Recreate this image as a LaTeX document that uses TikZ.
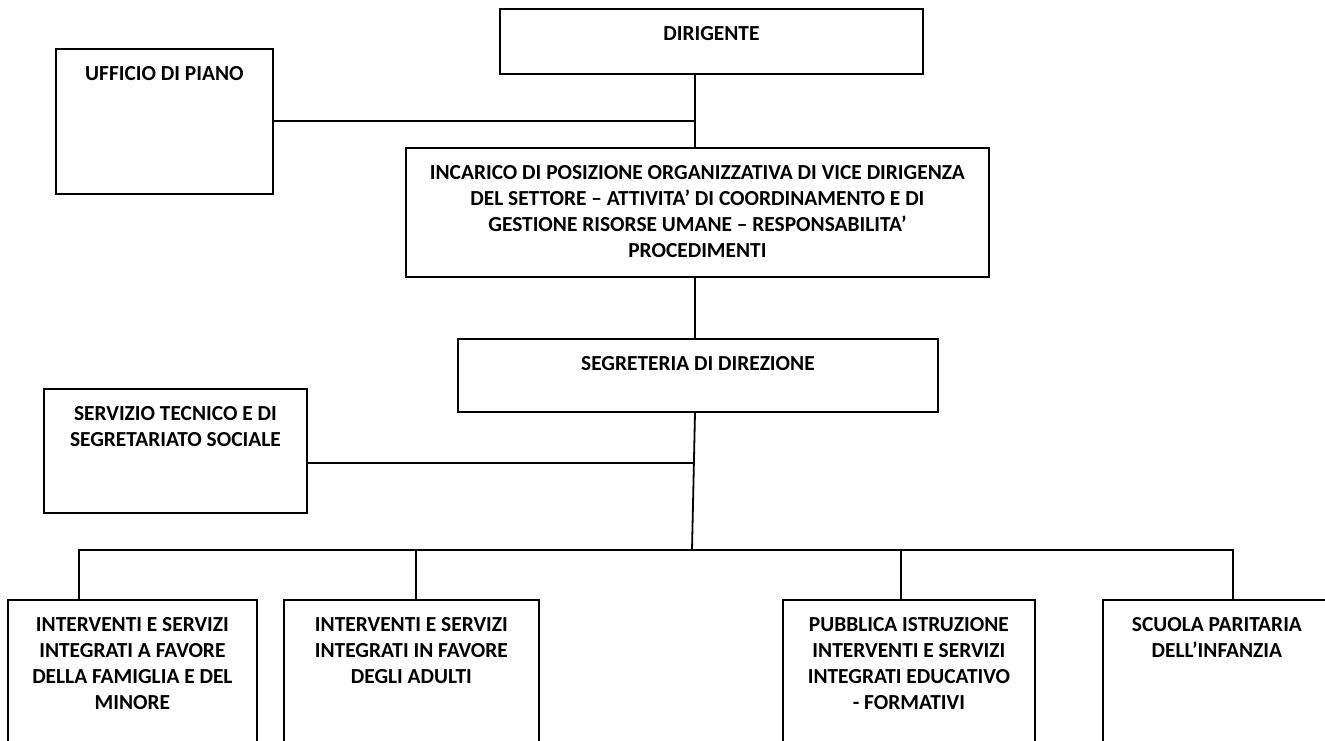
\documentclass[tikz,border=0pt]{standalone}
\usepackage{fontspec}
\setmainfont{Carlito}
\usetikzlibrary{calc}
\tikzset{
  orgbox/.style={draw=black, line width=1.8pt, rectangle, inner sep=0pt, anchor=north west},
  lbl/.style={font=\bfseries\fontsize{21.4}{26}\selectfont, align=center, inner sep=0pt, anchor=north},
  link/.style={draw=black, line width=1.8pt}
}
\newcommand{\fl}{\rule{0pt}{20pt}}
\begin{document}
\begin{tikzpicture}[x=1pt,y=-1pt]
\useasboundingbox (0,0) rectangle (1325,740);
\clip (0,0) rectangle (1325,740);
% boxes
\node[orgbox, minimum width=423pt, minimum height=65pt] (dir) at (499,8) {};
\node[orgbox, minimum width=217pt, minimum height=145pt] (uff) at (55,48) {};
\node[orgbox, minimum width=583pt, minimum height=129pt] (inc) at (405,147) {};
\node[orgbox, minimum width=480pt, minimum height=73pt] (seg) at (457,338) {};
\node[orgbox, minimum width=263pt, minimum height=124pt] (ser) at (43,388) {};
\node[orgbox, minimum width=249pt, minimum height=170pt] (b1) at (7,599) {};
\node[orgbox, minimum width=255pt, minimum height=170pt] (b2) at (283,599) {};
\node[orgbox, minimum width=252pt, minimum height=170pt] (b3) at (782,599) {};
\node[orgbox, minimum width=228pt, minimum height=170pt] (b4) at (1102,599) {};
% texts
\node[lbl] (dirT) at ($(dir.north)+(0,12)$) {\fl DIRIGENTE};
\node[lbl] (uffT) at ($(uff.north)+(0,12)$) {\fl UFFICIO DI PIANO};
\node[lbl] (incT) at ($(inc.north)+(0,12)$) {\fl INCARICO DI POSIZIONE ORGANIZZATIVA DI VICE DIRIGENZA\\DEL SETTORE – ATTIVITA’ DI COORDINAMENTO E DI\\GESTIONE RISORSE UMANE – RESPONSABILITA’\\PROCEDIMENTI};
\node[lbl] (segT) at ($(seg.north)+(0,12)$) {\fl SEGRETERIA DI DIREZIONE};
\node[lbl] (serT) at ($(ser.north)+(0,12)$) {\fl SERVIZIO TECNICO E DI\\SEGRETARIATO SOCIALE};
\node[lbl] (b1T) at ($(b1.north)+(0,12)$) {\fl INTERVENTI E SERVIZI\\INTEGRATI A FAVORE\\DELLA FAMIGLIA E DEL\\MINORE};
\node[lbl] (b2T) at ($(b2.north)+(0,12)$) {\fl INTERVENTI E SERVIZI\\INTEGRATI IN FAVORE\\DEGLI ADULTI};
\node[lbl] (b3T) at ($(b3.north)+(0,12)$) {\fl PUBBLICA ISTRUZIONE\\INTERVENTI E SERVIZI\\INTEGRATI EDUCATIVO\\- FORMATIVI};
\node[lbl] (b4T) at ($(b4.north)+(0,12)$) {\fl SCUOLA PARITARIA\\DELL’INFANZIA};
% junction coordinates
\coordinate (sp) at (695,0);
\coordinate (j1) at (695,121);
\coordinate (j2) at (694,463);
\coordinate (hub) at (692,550);
\coordinate (busL) at (79,550);
\coordinate (busR) at (1233,550);
\coordinate (d2) at (416,550);
\coordinate (d3) at (901,550);
% connectors
\draw[link] (dir.south -| sp) -- (inc.north -| sp);
\draw[link] (uff.east |- j1) -- (j1);
\draw[link] (inc.south -| sp) -- (seg.north -| sp);
\draw[link] (seg.south -| sp) -- (hub);
\draw[link] (ser.east |- j2) -- (j2);
\draw[link] (b1.north -| busL) -- (busL) -- (busR) -- (b4.north -| busR);
\draw[link] (b2.north -| d2) -- (d2);
\draw[link] (b3.north -| d3) -- (d3);
\end{tikzpicture}
\end{document}
